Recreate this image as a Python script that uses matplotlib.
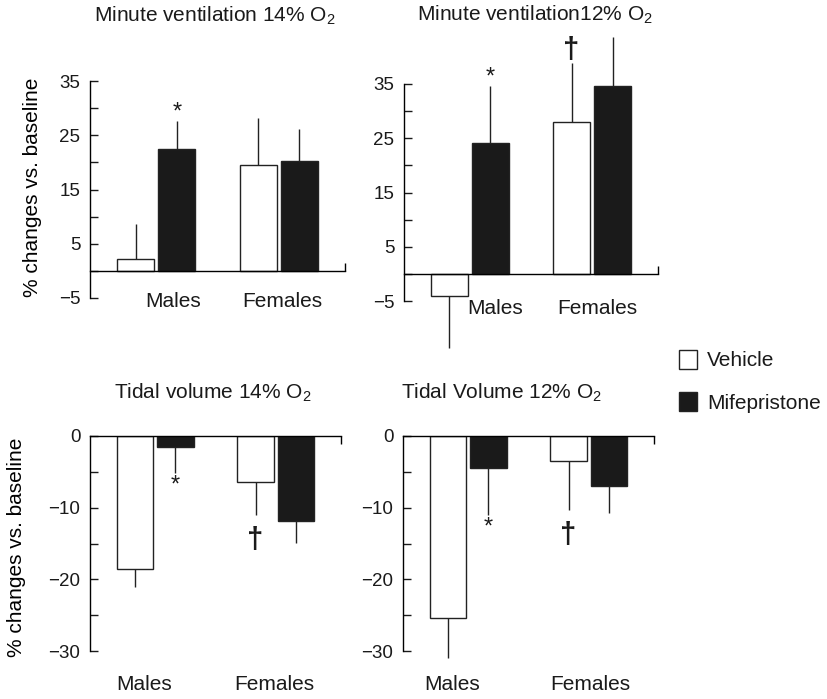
import numpy as np
import matplotlib.pyplot as plt

plt.rcParams['font.family'] = ['Liberation Sans', 'DejaVu Sans']
plt.rcParams['mathtext.fontset'] = 'custom'
plt.rcParams['mathtext.rm'] = 'Liberation Sans'
plt.rcParams['mathtext.it'] = 'Liberation Sans:italic'
plt.rcParams['text.color'] = '#1a1a1a'

groups = ['Males', 'Females']
treatments = ['Vehicle', 'Mifepristone']

# % change vs. baseline (mean, SEM) for each panel: [Males, Females]
mv14_vehicle = [2.2, 19.6]
mv14_vehicle_sem = [6.5, 8.5]
mv14_mife = [22.4, 20.2]
mv14_mife_sem = [5.2, 5.9]

mv12_vehicle = [-4.1, 28.0]
mv12_vehicle_sem = [9.6, 10.9]
mv12_mife = [24.1, 34.6]
mv12_mife_sem = [10.5, 9.1]

tv14_vehicle = [-18.6, -6.4]
tv14_vehicle_sem = [2.4, 4.6]
tv14_mife = [-1.5, -11.8]
tv14_mife_sem = [3.7, 3.1]

tv12_vehicle = [-25.4, -3.5]
tv12_vehicle_sem = [5.6, 6.8]
tv12_mife = [-4.5, -7.0]
tv12_mife_sem = [6.5, 3.7]

# significance marks: (treatment index, group index, symbol)
mv14_marks = [(1, 0, '*')]
mv12_marks = [(1, 0, '*'), (0, 1, '\u2020')]
tv14_marks = [(1, 0, '*'), (0, 1, '\u2020')]
tv12_marks = [(1, 0, '*'), (0, 1, '\u2020')]

titles = ['Minute ventilation 14% O$_\\mathrm{2}$',
          'Minute ventilation12% O$_\\mathrm{2}$',
          'Tidal volume 14% O$_\\mathrm{2}$',
          'Tidal Volume 12% O$_\\mathrm{2}$']

W, H = 828, 699
fig = plt.figure(figsize=(W / 100, H / 100), dpi=100)

def px_axes(x0, x1, ytop, ybot):
    return fig.add_axes([x0 / W, 1 - ybot / H, (x1 - x0) / W, (ybot - ytop) / H])

dark = '#1a1a1a'
bar_w = 0.30
offset = 0.168
xlim = (-0.54, 1.54)
x = np.arange(len(groups))


def draw_panel(ax, veh, veh_sem, mife, mife_sem, marks, ylim, major, minor,
               top_axis, title, title_xy, label_pos, label_y):
    means = [veh, mife]
    sems = [veh_sem, mife_sem]
    colors = ['white', dark]
    pos = [x - offset, x + offset]
    handles = []
    for i in range(2):
        m = np.array(means[i])
        s = np.array(sems[i])
        b = ax.bar(pos[i], m, bar_w, color=colors[i], edgecolor='#222222',
                   linewidth=1.0, label=treatments[i], zorder=2)
        handles.append(b)
        lower = np.where(m < 0, s, 0)
        upper = np.where(m >= 0, s, 0)
        ax.errorbar(pos[i], m, yerr=[lower, upper], fmt='none', ecolor='#222222',
                    elinewidth=1.0, capsize=0, clip_on=False, zorder=1)
    for ti, gi, sym in marks:
        m = means[ti][gi]
        end = m + sems[ti][gi] if m >= 0 else m - sems[ti][gi]
        big = sym != '*'
        fs = 21 if big else 17
        if m >= 0:
            ax.annotate(sym, (pos[ti][gi], end), xytext=(0, -1 if big else -2),
                        textcoords='offset points', ha='center', va='bottom',
                        fontsize=fs, fontweight='bold' if big else 'normal',
                        annotation_clip=False)
        else:
            ax.annotate(sym, (pos[ti][gi], end), xytext=(0, -8 if big else -1),
                        textcoords='offset points', ha='center', va='top',
                        fontsize=fs, fontweight='bold' if big else 'normal',
                        annotation_clip=False)

    ax.set_xlim(*xlim)
    ax.set_ylim(*ylim)
    ax.set_yticks(major)
    ax.set_yticks(minor, minor=True)
    ax.set_yticklabels(['\u2212%d' % -v if v < 0 else '%d' % v for v in major])
    ax.tick_params(axis='y', which='both', direction='in', length=6, width=1.0,
                   labelsize=13.5, pad=7, colors=dark)
    ax.spines['right'].set_visible(False)
    ax.spines['left'].set_linewidth(1.0)
    if top_axis:
        ax.spines['bottom'].set_visible(False)
        ax.spines['top'].set_linewidth(1.0)
        ax.xaxis.tick_top()
    else:
        ax.spines['top'].set_visible(False)
        ax.spines['bottom'].set_position(('data', 0))
        ax.spines['bottom'].set_linewidth(1.0)
    ax.set_xticks([xlim[1]])
    ax.set_xticklabels([])
    ax.tick_params(axis='x', direction='in', length=6, width=1.0)
    ax.patch.set_visible(False)

    ax.text(title_xy[0], title_xy[1], title, transform=ax.transAxes,
            ha='center', va='center', fontsize=15)
    for gx, name in zip(label_pos, groups):
        ax.text(gx, label_y, name, ha='center', va='center', fontsize=15)
    return handles


ax1 = px_axes(90, 345, 81, 298)
ax2 = px_axes(404, 658, 84, 301)
ax3 = px_axes(90, 341, 436, 651)
ax4 = px_axes(403, 654, 436, 651)

handles = draw_panel(ax1, mv14_vehicle, mv14_vehicle_sem, mv14_mife, mv14_mife_sem,
                     mv14_marks, (-5, 35), [-5, 5, 15, 25, 35], [0, 10, 20, 30],
                     False, titles[0], (0.49, 1.30), [0.14, 1.03], -5.6)
draw_panel(ax2, mv12_vehicle, mv12_vehicle_sem, mv12_mife, mv12_mife_sem,
           mv12_marks, (-5, 35), [-5, 5, 15, 25, 35], [0, 10, 20, 30],
           False, titles[1], (0.516, 1.318), [0.21, 1.04], -6.4)
draw_panel(ax3, tv14_vehicle, tv14_vehicle_sem, tv14_mife, tv14_mife_sem,
           tv14_marks, (-30, 0), [-30, -20, -10, 0], [-25, -15, -5],
           True, titles[2], (0.49, 1.20), [-0.09, 0.99], -34.7)
draw_panel(ax4, tv12_vehicle, tv12_vehicle_sem, tv12_mife, tv12_mife_sem,
           tv12_marks, (-30, 0), [-30, -20, -10, 0], [-25, -15, -5],
           True, titles[3], (0.394, 1.20), [-0.13, 1.01], -34.7)

ax1.set_ylabel('% changes vs. baseline', fontsize=15)
ax1.yaxis.set_label_coords(-0.19, 0.51)
ax3.set_ylabel('% changes vs. baseline', fontsize=15)
ax3.yaxis.set_label_coords(-0.255, 0.48)

fig.legend(handles=handles, labels=treatments, loc='upper left',
           bbox_to_anchor=(679 / W, 1 - 350 / H), frameon=False, fontsize=15,
           handlelength=0.85, handleheight=1.0, handletextpad=0.5,
           labelspacing=1.05, borderpad=0, borderaxespad=0)

fig.savefig('out.png', dpi=100)
